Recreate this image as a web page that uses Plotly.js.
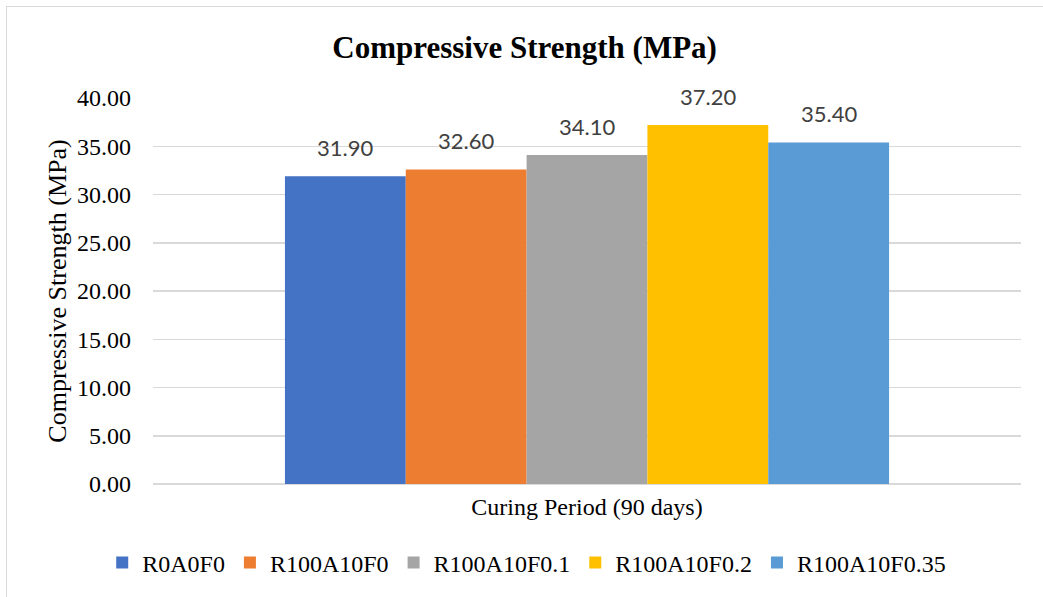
<!DOCTYPE html>
<html>
<head>
<meta charset="utf-8">
<script src="https://cdn.plot.ly/plotly-3.0.1.min.js"></script>
<style>
  html, body { margin: 0; padding: 0; background: #ffffff; overflow: hidden; }
  #frame {
    position: absolute; left: 6px; top: 6px; width: 1100px; height: 700px;
    border: 1.5px solid #d9d9d9; box-sizing: border-box; pointer-events: none; z-index: 2;
  }
  #chart { position: absolute; left: 0; top: 0; width: 1043px; height: 597px; }
</style>
</head>
<body>
<div id="chart"></div>
<div id="frame"></div>
<script>
// Compressive strength of each mix after 90 days of curing
const category = ['Curing Period (90 days)'];
const mixes = ['R0A0F0', 'R100A10F0', 'R100A10F0.1', 'R100A10F0.2', 'R100A10F0.35'];
const strength = [31.90, 32.60, 34.10, 37.20, 35.40];
const colors = ['#4472C4', '#ED7D31', '#A5A5A5', '#FFC000', '#5B9BD5'];
const yTicks = [0, 5, 10, 15, 20, 25, 30, 35, 40];

const serif = 'Liberation Serif, Times New Roman, serif';
const bargap = 0.304;

const traces = mixes.map((name, i) => ({
  type: 'bar',
  name: name,
  x: category,
  y: [strength[i]],
  marker: { color: colors[i] },
  hoverinfo: 'skip'
}));

// Value labels sit above each bar of the group
const slot = (1 - bargap) / mixes.length;
const labels = mixes.map((name, i) => ({
  xref: 'x', yref: 'y',
  x: -0.5 + bargap / 2 + (i + 0.5) * slot,
  y: strength[i],
  text: strength[i].toFixed(2),
  showarrow: false,
  yanchor: 'bottom',
  yshift: 13,
  font: { family: 'Lato, Open Sans, sans-serif', size: 22, color: '#404040' }
}));

const layout = {
  width: 1043,
  height: 597,
  margin: { l: 153, r: 22, t: 98, b: 113 },
  paper_bgcolor: 'rgba(0,0,0,0)',
  plot_bgcolor: '#ffffff',
  barmode: 'group',
  bargap: bargap,
  bargroupgap: 0,
  title: {
    text: '<b>Compressive Strength (MPa)</b>',
    font: { family: serif, size: 31, color: '#000000' },
    x: 0.503, xref: 'container', xanchor: 'center',
    y: 1 - 47 / 597, yref: 'container', yanchor: 'middle'
  },
  xaxis: {
    type: 'category',
    showgrid: false,
    showline: false,
    ticks: '',
    tickfont: { family: serif, size: 24, color: '#000000' },
    ticklabelstandoff: 6
  },
  yaxis: {
    range: [0, 40],
    tickvals: yTicks,
    ticktext: yTicks.map(v => v.toFixed(2)),
    tickfont: { family: serif, size: 24, color: '#000000' },
    showgrid: true,
    gridcolor: '#d9d9d9',
    gridwidth: 1.5,
    zeroline: true,
    zerolinecolor: '#d9d9d9',
    zerolinewidth: 1.5,
    showline: false,
    ticks: '',
    ticklabelstandoff: 21,
    title: {
      text: 'Compressive Strength (MPa)',
      font: { family: serif, size: 26, color: '#000000' },
      standoff: 2
    }
  },
  showlegend: true,
  legend: {
    orientation: 'h',
    xref: 'container', x: 0.505, xanchor: 'center',
    yref: 'container', y: 1 - 563 / 597, yanchor: 'middle',
    font: { family: serif, size: 24, color: '#000000' },
    traceorder: 'normal'
  },
  annotations: labels
};

Plotly.newPlot('chart', traces, layout, { displayModeBar: false, staticPlot: true });
</script>
</body>
</html>
